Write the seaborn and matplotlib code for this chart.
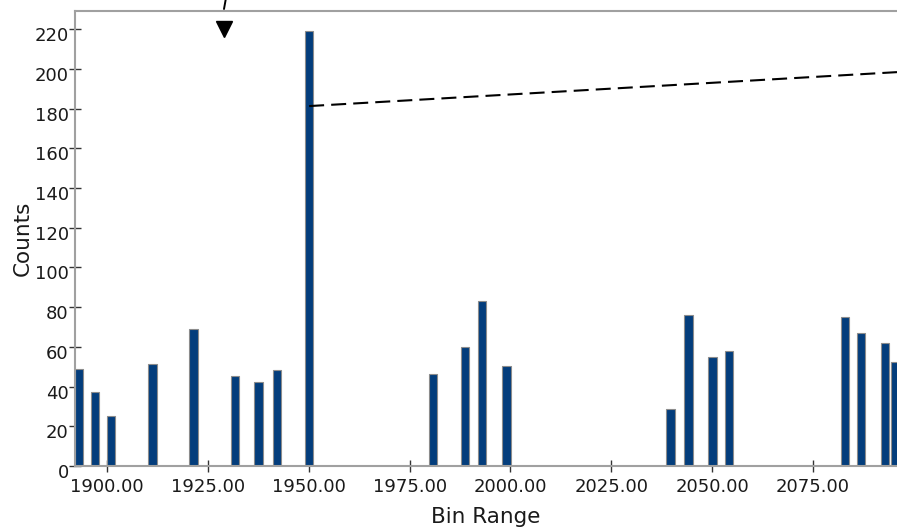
import numpy as np
import matplotlib
matplotlib.use("Agg")
import matplotlib.pyplot as plt
import matplotlib.transforms as mtransforms
import seaborn as sns

# Bin centres and counts
bin_centers = [1893.1, 1897.0, 1901.0, 1911.3, 1921.4, 1931.7, 1937.6, 1942.1, 1950.1,
               1980.8, 1988.7, 1992.9, 1999.0,
               2039.7, 2044.1, 2050.1, 2054.1,
               2082.9, 2086.9, 2092.8, 2095.3]
counts = [49, 37.5, 25, 51.5, 69, 45.5, 42.5, 48.5, 219,
          46.5, 60, 83, 50.5,
          28.5, 76, 55, 58,
          75, 67, 62, 52.5]
x_ticks = [1900, 1925, 1950, 1975, 2000, 2025, 2050, 2075]
y_ticks = list(range(0, 221, 20))

# annotation overlays (data coords)
leader_x = [1950.1, 2095.8]
leader_y = [181.3, 198.4]
arrow_x = [1929.4, 1929.0]
arrow_y = [234.7, 230.2]
arrow_tip = (1929.0, 219.9)

bar_width = 2.1

sns.set_theme(style="white")
plt.rcParams["font.family"] = ["DejaVu Sans"]

fig = plt.figure(figsize=(8.97, 5.28), dpi=100)
ax = fig.add_axes([0.0836, 0.1174, 0.9164, 0.8618])

w = bar_width / np.diff(np.sort(bin_centers)).min()
sns.barplot(x=bin_centers, y=counts, native_scale=True, width=w,
            color="#033d7c", saturation=1, edgecolor="#8c8c8c",
            linewidth=0.8, errorbar=None, ax=ax)

ax.set_xlim(1892.07, 2095.8)
ax.set_ylim(0, 229.2)
ax.set_xticks(x_ticks)
ax.set_xticklabels([f"{t:.2f}" for t in x_ticks])
ax.set_yticks(y_ticks)

ax.tick_params(axis="both", direction="inout", length=8, width=1,
               color="#333333", labelcolor="#1a1a1a", labelsize=13)
ax.tick_params(axis="x", pad=4.5)
ax.tick_params(axis="y", pad=0.5)
ax.tick_params(left=True, bottom=True)

# the y labels sit a little below their ticks in the original
shift = mtransforms.ScaledTranslation(0, -5 / 100, fig.dpi_scale_trans)
for lab in ax.get_yticklabels():
    lab.set_transform(lab.get_transform() + shift)

for side in ["left", "top", "bottom"]:
    ax.spines[side].set_color("#a0a0a0")
    ax.spines[side].set_linewidth(1.5)
ax.spines["right"].set_visible(False)

ax.set_xlabel("Bin Range", fontsize=15.5, color="#1a1a1a", labelpad=8)
ax.set_ylabel("Counts", fontsize=15.5, color="#1a1a1a", labelpad=1)

# dashed leader from the tall bar and the arrow at the top
ax.plot(leader_x, leader_y, color="black", lw=1.5, dashes=(7.2, 3.4), clip_on=False)
ax.plot(arrow_x, arrow_y, color="black", lw=1.4, clip_on=False)
ax.plot([arrow_tip[0]], [arrow_tip[1]], marker="v", ms=11, color="black", clip_on=False)

fig.savefig("out.png", dpi=100, facecolor="white")
